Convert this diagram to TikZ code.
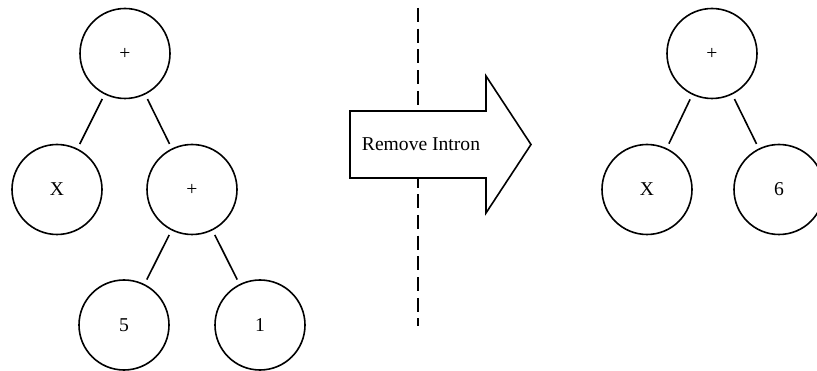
\documentclass[tikz,border=0pt]{standalone}
\usepackage{fontspec}
\setmainfont{Liberation Serif}
\begin{document}
\begin{tikzpicture}[x=1pt,y=-1pt,
  every node/.style={font=\fontsize{19.6}{23}\selectfont},
  treenode/.style={circle,draw=black,line width=1.6pt,minimum size=90pt,inner sep=0pt},
  edge/.style={draw=black,line width=1.6pt,shorten <=5pt,shorten >=5pt},
  divider/.style={draw=black,line width=1.8pt,dash pattern=on 14pt off 6.7pt},
  bigarrow/.style={draw=black,fill=white,line width=1.6pt,line join=miter}]
\useasboundingbox (0,0) rectangle (817,371);
% divider line
\coordinate (dtop) at (418,8);
\coordinate (dbot) at (418,326);
\draw[divider] (dtop) -- (dbot);
% arrow
\draw[bigarrow] (350,111) -- (486,111) -- (486,76) -- (531,144.5) -- (486,213) -- (486,178) -- (350,178) -- cycle;
\node (lbl) at (421,144.5) {Remove Intron};
% left tree
\node[treenode] (lp) at (125,53.5) {+};
\node[treenode] (lx) at (57,189.5) {X};
\node[treenode] (lq) at (192,189.5) {+};
\node[treenode] (l5) at (124,325) {5};
\node[treenode] (l1) at (260,325) {1};
\draw[edge] (lp) -- (lx);
\draw[edge] (lp) -- (lq);
\draw[edge] (lq) -- (l5);
\draw[edge] (lq) -- (l1);
% right tree
\node[treenode] (rp) at (712,53.5) {+};
\node[treenode] (rx) at (647,189.5) {X};
\node[treenode] (r6) at (779,189.5) {6};
\draw[edge] (rp) -- (rx);
\draw[edge] (rp) -- (r6);
\end{tikzpicture}
\end{document}
